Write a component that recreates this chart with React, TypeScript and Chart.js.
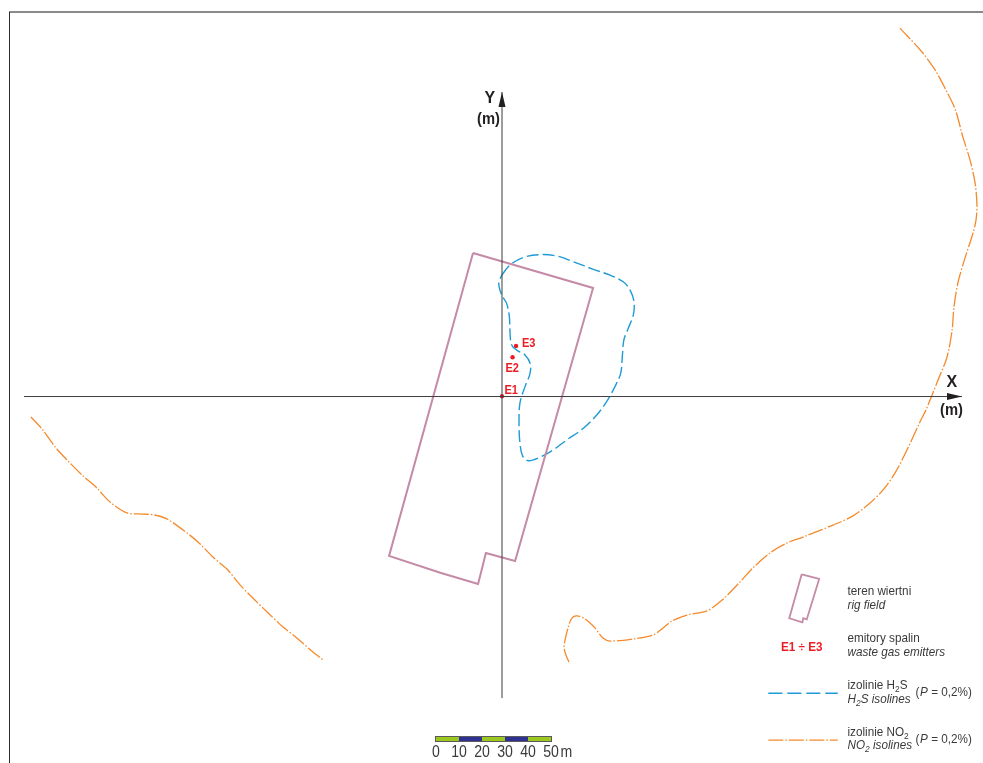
import React, { useEffect, useRef } from "react";
import { Chart, registerables } from "chart.js";

Chart.register(...registerables);

type P = { x: number; y: number };
const pts = (a: number[][]): P[] => a.map(([x, y]) => ({ x, y }));

// All geometry is in metres, origin at the emitter E1.
const rigField = [[-12.6,62.6],[39.6,47.4],[5.7,-71.3],[-7,-67.8],[-10.4,-81.3],[-26.5,-76.5],[-49.1,-69.1],[-12.6,62.6]];
const h2sIsoline = [[-0.1,53],[3.5,57.4],[9.3,60.7],[16.5,61.9],[23.8,61.3],[31,58.8],[39.7,55.5],[47,53],[52.7,50.1],[55.7,46.5],[57.4,41.4],[57.1,35.7],[54.9,29.9],[53,24.8],[52.3,17.5],[51.6,10.3],[49.1,4.5],[45.5,-2],[41.2,-7.8],[35.4,-13.6],[28.1,-18.7],[22.3,-23],[16.5,-26.2],[11.4,-27.7],[9,-25.7],[7.8,-20.1],[7.4,-11.4],[7.8,-2.7],[10,4.5],[12.2,10.3],[12.2,14.7],[10,18.3],[6.4,20.4],[4.2,22.6],[3.5,27.7],[3.2,34.9],[2,40.7],[-0.1,44.3],[-1.4,49.4],[-0.1,53]];
const no2Right = [[173,160.4],[182.6,150],[188.3,142.2],[192.6,134.3],[197,125.2],[200.4,113],[203.5,103],[205.7,93],[206.5,83.5],[206.1,77],[204.8,71.3],[201.3,60.4],[198.3,50],[196.5,39.1],[195.7,29.1],[193.5,17.4],[189.6,7.4],[187,0.9],[184.3,-5.7],[181.7,-10.9],[176.1,-23],[170.9,-33],[165.7,-40.4],[160,-46.1],[152.6,-51.7],[143.9,-55.7],[130.9,-60.9],[123.9,-63.5],[116.5,-67.8],[109.1,-74.3],[103.5,-80.4],[95.7,-88.3],[89.1,-93],[80.4,-94.8],[73.9,-97.4],[70,-100.4],[65.7,-103.5],[57,-105.2],[47,-106.1],[43.9,-104.8],[40.4,-100.4],[36.1,-96.5],[32.6,-95.2],[30.4,-96.1],[28.7,-100.4],[27.4,-105.7],[27,-109.1],[27.8,-112.2],[29.1,-115.2]];
const no2Left = [[-204.8,-8.7],[-200,-13.9],[-194.3,-21.7],[-189.1,-27.4],[-182.6,-33.9],[-176.1,-39.6],[-170.4,-45.7],[-163,-50.4],[-156.1,-50.9],[-150.9,-51.3],[-145.7,-53],[-138.7,-57.8],[-132.2,-63],[-125.7,-69.6],[-119.6,-74.8],[-113.9,-81.7],[-108.3,-87.4],[-101.7,-93.9],[-95.2,-100],[-88.7,-105.2],[-82.2,-110.9],[-77.8,-114.3]];
const emitters = [[0,0.3],[4.6,17.3],[6.1,22.2]];
const xAxisLine = [[-207.8,0.2],[200,0.2]];
const yAxisLine = [[0,-130.9],[0,132.6]];
const keyRig = [[130.3,-77.1],[137.9,-79.1],[132.5,-96.7],[131,-96.2],[130.6,-98],[124.9,-96.2],[130.3,-77.1]];
const keyH2S = [[115.8,-128.8],[146,-128.8]];
const keyNO2 = [[115.8,-149.2],[146,-149.2]];
const scaleBarTicks = [0, 10, 20, 30, 40, 50];
const scaleBarLabels = ["0", "10", "20", "30", "40", "50"];

const PX_PER_M = 2.3;
const W = 983, H = 763, OX = 502, OY = 397;

const RIG = "#c48aa6", BLUE = "#1e9bd7", ORANGE = "#f58a2c", RED = "#ed1c24", INK = "#3a3a3c";
const SANS = '"Liberation Sans", Arial, sans-serif';

type Run = { t: string; sub?: boolean };
const R = (t: string): Run => ({ t });
const S = (t: string): Run => ({ t, sub: true });

function text(ctx: CanvasRenderingContext2D, runs: Run[], x: number, y: number, size: number, color: string, style = "", sx = 0.9) {
  ctx.save();
  ctx.fillStyle = color;
  ctx.textAlign = "left";
  ctx.textBaseline = "alphabetic";
  ctx.translate(x, y);
  ctx.scale(sx, 1);
  let cx = 0;
  for (const r of runs) {
    const s = r.sub ? size * 0.72 : size;
    ctx.font = `${style} ${s}px ${SANS}`;
    ctx.fillText(r.t, cx, r.sub ? 2.5 : 0);
    cx += ctx.measureText(r.t).width;
  }
  ctx.restore();
}

const frame = {
  id: "frame",
  beforeDatasetsDraw(chart: any) {
    const c = chart.ctx as CanvasRenderingContext2D;
    c.save();
    c.fillStyle = "#8a8a8a";
    c.fillRect(9, 11, W - 9, 2);
    c.fillStyle = "#2b2b2b";
    c.fillRect(9, 12, 1, H - 12);
    c.restore();
  },
  afterDatasetsDraw(chart: any) {
    const c = chart.ctx as CanvasRenderingContext2D;
    const xs = chart.scales.x, ys = chart.scales.y;
    // arrowheads
    c.save();
    c.fillStyle = "#231f20";
    const tx = xs.getPixelForValue(xAxisLine[1][0]), ty = ys.getPixelForValue(xAxisLine[1][1]);
    c.beginPath(); c.moveTo(tx, ty); c.lineTo(tx - 15, ty - 3.5); c.lineTo(tx - 15, ty + 3.5); c.closePath(); c.fill();
    const ux = xs.getPixelForValue(yAxisLine[1][0]), uy = ys.getPixelForValue(yAxisLine[1][1]);
    c.beginPath(); c.moveTo(ux, uy); c.lineTo(ux + 3.5, uy + 15); c.lineTo(ux - 3.5, uy + 15); c.closePath(); c.fill();
    // scale bar
    const barY = ys.getPixelForValue(-148.7);
    const x0 = xs.getPixelForValue(-28.7);
    const unit = xs.getPixelForValue(10) - xs.getPixelForValue(0);
    scaleBarTicks.slice(0, -1).forEach((v, i) => {
      c.fillStyle = i % 2 ? "#2e3192" : "#9cc820";
      c.fillRect(x0 + (v / 10) * unit, barY - 2, unit, 4);
    });
    c.strokeStyle = "#5a5a5a";
    c.lineWidth = 1;
    c.strokeRect(Math.round(x0) - 0.5, Math.round(barY) - 2.5, 5 * unit + 1, 5);
    c.restore();
    // scale bar labels
    scaleBarTicks.forEach((v, i) => {
      const cx = x0 + (v / 10) * unit;
      c.save();
      c.font = `16px ${SANS}`;
      const w = c.measureText(scaleBarLabels[i]).width * 0.88;
      c.restore();
      text(c, [R(scaleBarLabels[i])], cx - w / 2, 757, 16, INK, "", 0.88);
    });
    text(c, [R("m")], 560.5, 757, 16, INK, "", 0.88);
    // axis labels
    text(c, [R("Y")], 484.5, 103, 16, "#231f20", "bold", 1);
    text(c, [R("(m)")], 477, 124, 16, "#231f20", "bold", 0.92);
    text(c, [R("X")], 946.5, 387, 16, "#231f20", "bold", 1);
    text(c, [R("(m)")], 940, 415, 16, "#231f20", "bold", 0.92);
    // emitters
    text(c, [R("E1")], 504.5, 394, 13, RED, "bold", 0.85);
    text(c, [R("E2")], 505.5, 372, 13, RED, "bold", 0.85);
    text(c, [R("E3")], 522, 347, 13, RED, "bold", 0.85);
    // legend
    const G = "#3a3a3c";
    text(c, [R("teren wiertni")], 847.5, 595, 13, G);
    text(c, [R("rig field")], 847.5, 609, 13, G, "italic");
    text(c, [R("E1 ÷ E3")], 781, 651, 13, RED, "bold", 0.9);
    text(c, [R("emitory spalin")], 847.5, 642, 13, G);
    text(c, [R("waste gas emitters")], 847.5, 656, 13, G, "italic");
    text(c, [R("izolinie H"), S("2"), R("S")], 847.5, 689, 13, G);
    text(c, [R("H"), S("2"), R("S isolines")], 847.5, 703, 13, G, "italic");
    text(c, [R("izolinie NO"), S("2")], 847.5, 736, 13, G);
    text(c, [R("NO"), S("2"), R(" isolines")], 847.5, 749, 13, G, "italic");
    for (const y of [696, 743]) {
      c.save();
      text(c, [R("(")], 915.5, y, 13, G);
      text(c, [R("P")], 920, y, 13, G, "italic");
      text(c, [R(" = 0,2%)")], 928, y, 13, G);
      c.restore();
    }
  },
};

const line = (data: number[][], color: string, extra: any = {}) => ({
  data: pts(data),
  showLine: true,
  borderColor: color,
  borderWidth: 1,
  pointRadius: 0,
  fill: false,
  ...extra,
});

export default function App() {
  const ref = useRef<HTMLCanvasElement>(null);
  useEffect(() => {
    const chart = new Chart(ref.current!, {
      type: "scatter",
      data: {
        datasets: [
          line(xAxisLine, "#3c3c3e"),
          line(yAxisLine, "#3c3c3e"),
          line(rigField, RIG, { borderWidth: 2, borderJoinStyle: "miter" }),
          line(h2sIsoline, BLUE, { tension: 0.35, borderWidth: 1.4, borderDash: [12, 4] }),
          line(no2Right, ORANGE, { tension: 0.3, borderWidth: 1.3, borderDash: [15, 2, 1.5, 2] }),
          line(no2Left, ORANGE, { tension: 0.3, borderWidth: 1.3, borderDash: [15, 2, 1.5, 2] }),
          line(keyRig, RIG, { borderWidth: 1.8 }),
          line(keyH2S, BLUE, { borderWidth: 1.4, borderDash: [14, 5] }),
          line(keyNO2, ORANGE, { borderWidth: 1.3, borderDash: [15, 2, 1.5, 2] }),
          { data: pts(emitters), showLine: false, pointRadius: 2.2, pointBorderWidth: 0, pointBackgroundColor: RED, borderColor: RED },
        ] as any,
      },
      options: {
        responsive: false,
        animation: false,
        layout: { padding: 0, autoPadding: false },
        events: [],
        plugins: { legend: { display: false }, tooltip: { enabled: false } },
        scales: {
          x: { type: "linear", display: false, min: -OX / PX_PER_M, max: (W - OX) / PX_PER_M },
          y: { type: "linear", display: false, min: -(H - OY) / PX_PER_M, max: OY / PX_PER_M },
        },
      },
      plugins: [frame],
    });
    return () => chart.destroy();
  }, []);
  return (
    <div style={{ position: "absolute", left: 0, top: 0, width: W, height: H, background: "#fff" }}>
      <canvas ref={ref} width={W} height={H} style={{ display: "block" }} />
    </div>
  );
}
